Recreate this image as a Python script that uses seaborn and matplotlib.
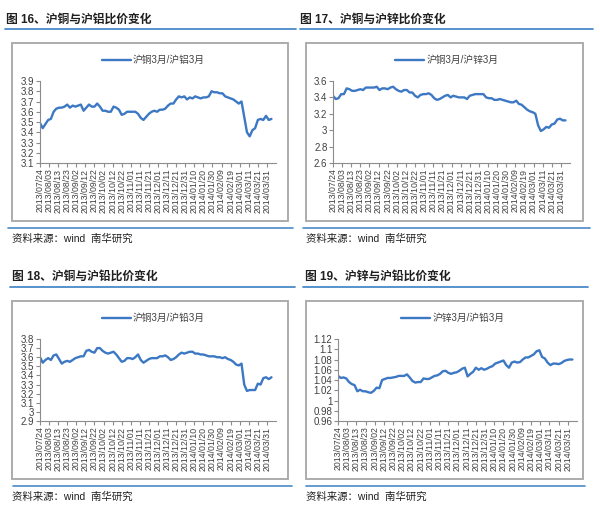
import pandas as pd
import matplotlib
matplotlib.use('Agg')
import matplotlib.pyplot as plt
import matplotlib.dates as mdates
from matplotlib.lines import Line2D
from matplotlib.patches import Rectangle
from matplotlib.ticker import FuncFormatter
import seaborn as sns

## Data (one value every 3 calendar days) ##
dates = pd.date_range('2013-07-24', periods=86, freq='3D')
tick_dates = pd.date_range('2013-07-24', '2014-03-31', freq='10D')

cu_al = [3.49, 3.44, 3.48, 3.52, 3.53, 3.60, 3.63, 3.64, 3.64, 3.65,
         3.67, 3.64, 3.66, 3.65, 3.66, 3.67, 3.61, 3.64, 3.67, 3.65,
         3.65, 3.68, 3.65, 3.61, 3.61, 3.60, 3.60, 3.65, 3.64, 3.62,
         3.57, 3.58, 3.60, 3.60, 3.60, 3.60, 3.58, 3.54, 3.52, 3.55,
         3.58, 3.60, 3.61, 3.60, 3.62, 3.62, 3.63, 3.66, 3.68, 3.68,
         3.72, 3.75, 3.74, 3.75, 3.72, 3.74, 3.73, 3.75, 3.74, 3.73,
         3.74, 3.74, 3.75, 3.80, 3.79, 3.79, 3.78, 3.78, 3.75, 3.74,
         3.73, 3.72, 3.70, 3.68, 3.70, 3.55, 3.40, 3.36, 3.42, 3.44,
         3.52, 3.53, 3.52, 3.56, 3.52, 3.53]

cu_zn = [3.42, 3.38, 3.39, 3.44, 3.44, 3.51, 3.50, 3.48, 3.48, 3.49,
         3.50, 3.49, 3.52, 3.52, 3.52, 3.52, 3.53, 3.49, 3.51, 3.51,
         3.50, 3.52, 3.53, 3.50, 3.48, 3.47, 3.49, 3.49, 3.46, 3.46,
         3.42, 3.40, 3.43, 3.44, 3.44, 3.45, 3.43, 3.39, 3.37, 3.38,
         3.40, 3.42, 3.43, 3.40, 3.42, 3.41, 3.40, 3.40, 3.40, 3.38,
         3.42, 3.43, 3.44, 3.44, 3.44, 3.44, 3.40, 3.39, 3.39, 3.37,
         3.37, 3.38, 3.37, 3.36, 3.35, 3.34, 3.34, 3.36, 3.32, 3.31,
         3.28, 3.25, 3.23, 3.22, 3.20, 3.06, 2.99, 3.01, 3.04, 3.03,
         3.07, 3.08, 3.13, 3.14, 3.12, 3.12]

cu_pb = [3.60, 3.54, 3.57, 3.59, 3.57, 3.62, 3.63, 3.58, 3.53, 3.55,
         3.56, 3.55, 3.57, 3.59, 3.60, 3.61, 3.61, 3.67, 3.68, 3.66,
         3.65, 3.70, 3.70, 3.67, 3.65, 3.64, 3.65, 3.66, 3.63, 3.59,
         3.55, 3.56, 3.59, 3.59, 3.58, 3.60, 3.63, 3.57, 3.54, 3.56,
         3.58, 3.59, 3.59, 3.59, 3.61, 3.61, 3.62, 3.60, 3.57, 3.58,
         3.60, 3.63, 3.65, 3.64, 3.65, 3.66, 3.66, 3.64, 3.64, 3.63,
         3.63, 3.62, 3.61, 3.61, 3.61, 3.60, 3.60, 3.59, 3.60, 3.58,
         3.57, 3.55, 3.52, 3.51, 3.53, 3.30, 3.23, 3.24, 3.24, 3.24,
         3.31, 3.30, 3.37, 3.38, 3.36, 3.38]

zn_pb = [1.048, 1.044, 1.045, 1.043, 1.036, 1.032, 1.030, 1.018, 1.021, 1.018,
         1.018, 1.016, 1.015, 1.019, 1.025, 1.024, 1.040, 1.042, 1.044, 1.044,
         1.045, 1.046, 1.048, 1.048, 1.048, 1.051, 1.045, 1.038, 1.035, 1.036,
         1.036, 1.043, 1.042, 1.042, 1.045, 1.048, 1.049, 1.052, 1.057, 1.058,
         1.054, 1.052, 1.054, 1.055, 1.058, 1.062, 1.064, 1.047, 1.052, 1.056,
         1.064, 1.060, 1.063, 1.060, 1.062, 1.065, 1.067, 1.072, 1.074, 1.076,
         1.078, 1.069, 1.064, 1.074, 1.076, 1.074, 1.075, 1.080, 1.084, 1.084,
         1.087, 1.090, 1.096, 1.098, 1.085, 1.082, 1.074, 1.069, 1.072, 1.072,
         1.071, 1.073, 1.077, 1.079, 1.080, 1.080]

titles = ['图 16、沪铜与沪铝比价变化', '图 17、沪铜与沪锌比价变化',
          '图 18、沪铜与沪铅比价变化', '图 19、沪锌与沪铅比价变化']
legend_labels = ['沪铜3月/沪铝3月', '沪铜3月/沪锌3月',
                 '沪铜3月/沪铅3月', '沪锌3月/沪铅3月']
series_list = [cu_al, cu_zn, cu_pb, zn_pb]
y_ranges = [(3.1, 3.9, 0.1), (2.6, 3.6, 0.2), (2.9, 3.8, 0.1), (0.96, 1.12, 0.02)]
source_text = '资料来源：wind  南华研究'

## Styling ##
sns.set_style('white')
plt.rcParams['font.family'] = ['Liberation Sans', 'Noto Sans CJK SC', 'DejaVu Sans']
line_blue = '#3C78C3'
rule_blue = '#4A8AC9'
axis_gray = '#8C8C8C'
text_gray = '#404040'

W, H = 600, 511
fig = plt.figure(figsize=(W / 100, H / 100), dpi=100)


def fx(x):
    return x / W


def fy(y):
    return 1 - y / H


# pixel layout of each panel (x positions, and the vertical offset of the lower row)
panels = [
    dict(tx=6, ty=20, rx0=5, rx1=296, bx0=12, bx1=288, ax0=40, ax1=276, top=0),
    dict(tx=300, ty=20, rx0=300, rx1=593, bx0=306, bx1=583, ax0=333, ax1=570, top=0),
    dict(tx=12, ty=277, rx0=10, rx1=295, bx0=12, bx1=288, ax0=40, ax1=276, top=258),
    dict(tx=305, ty=277, rx0=303, rx1=588, bx0=306, bx1=583, ax0=338, ax1=577, top=258),
]

for i, p in enumerate(panels):
    t = p['top']
    # title and rule underneath
    fig.text(fx(p['tx']), fy(p['ty']), titles[i], fontsize=8.5, fontweight='bold',
             color='#202020', va='center', ha='left')
    fig.add_artist(Line2D([fx(p['rx0']), fx(p['rx1'])], [fy(29 + t), fy(29 + t)],
                          color=rule_blue, lw=1.3))
    # gray chart frame
    fig.add_artist(Rectangle((fx(p['bx0']), fy(221 + t)), fx(p['bx1'] - p['bx0']),
                             (221 - 43) / H, fill=False, edgecolor='#A6A6A6', lw=1.3))
    # source rule and text
    fig.add_artist(Line2D([fx(p['rx0'] + 3), fx(p['rx1'] - 3)], [fy(228 + t), fy(228 + t)],
                          color=rule_blue, lw=1.2))
    fig.text(fx(p['bx0']), fy(239 + t), source_text, fontsize=7.5, color='#202020',
             va='center', ha='left')

    # plotting area
    top_px = 81 + t
    bot_px = 163 + t
    ax = fig.add_axes([fx(p['ax0']), fy(bot_px), fx(p['ax1'] - p['ax0']), (bot_px - top_px) / H])
    df = pd.DataFrame({'date': dates, 'ratio': series_list[i]})
    sns.lineplot(data=df, x='date', y='ratio', ax=ax, color=line_blue, lw=1.7,
                 label=legend_labels[i])

    lo, hi, step = y_ranges[i]
    n = int(round((hi - lo) / step))
    ax.set_ylim(lo, hi)
    ax.set_yticks([lo + k * step for k in range(n + 1)])
    ax.yaxis.set_major_formatter(FuncFormatter(lambda v, pos: '{:g}'.format(round(v, 2))))
    ax.set_xlim(pd.Timestamp('2013-07-24'), pd.Timestamp('2014-04-10'))
    ax.set_xticks(tick_dates)
    ax.xaxis.set_major_formatter(mdates.DateFormatter('%Y/%m/%d'))
    ax.tick_params(axis='x', labelrotation=90, labelsize=6.3, colors=text_gray,
                   length=3, width=0.8, color=axis_gray, pad=1)
    ax.tick_params(axis='y', labelsize=7, colors=text_gray,
                   length=3, width=0.8, color=axis_gray, pad=1)
    ax.tick_params(axis='both', direction='out', bottom=True, left=True)
    ax.set_xlabel('')
    ax.set_ylabel('')
    for s in ['top', 'right']:
        ax.spines[s].set_visible(False)
    for s in ['left', 'bottom']:
        ax.spines[s].set_color(axis_gray)
        ax.spines[s].set_linewidth(0.8)
    ax.set_facecolor('none')

    ax.legend(loc='center', bbox_to_anchor=(0.48, 1 + 21 / 82), frameon=False,
              fontsize=7, handlelength=3.0, handletextpad=0.2, labelcolor=text_gray)

fig.savefig('out.png', dpi=100)
